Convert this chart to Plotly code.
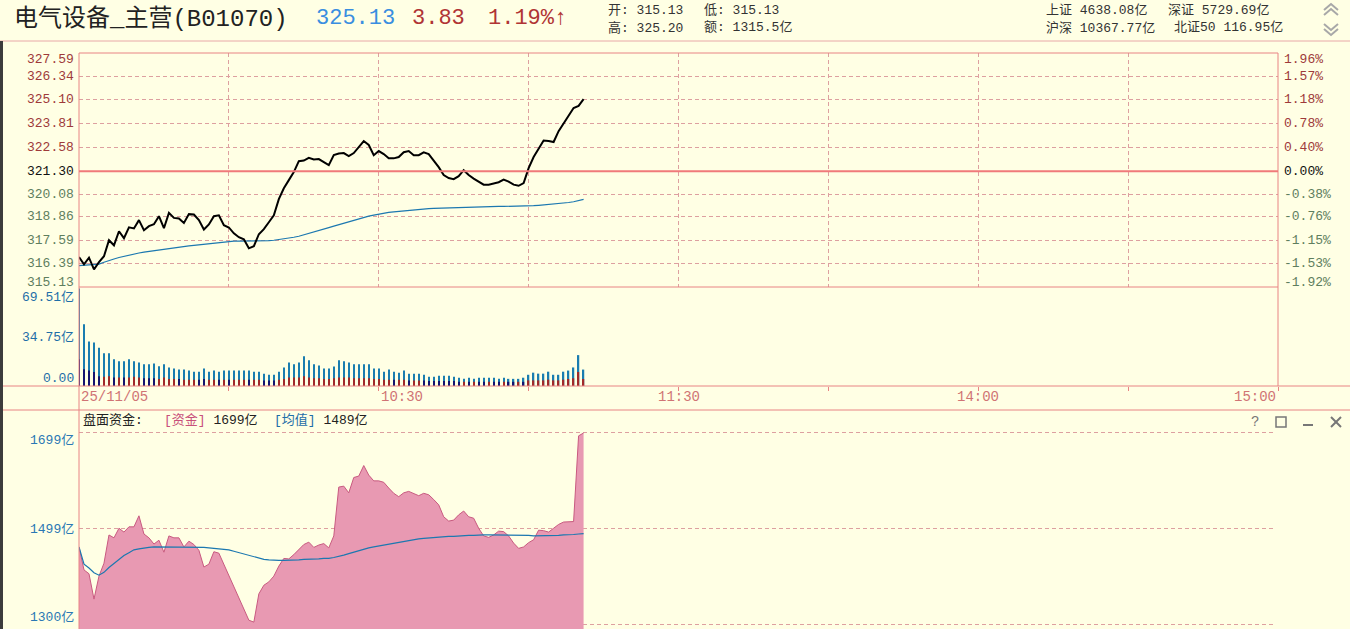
import plotly.graph_objects as go

# ---- data ----
minutes = list(range(102))  # 9:30 .. 11:11, one point per minute

price = [316.73, 316.34, 316.69, 316.07, 316.45, 316.77, 317.62, 317.35, 318.10, 317.73,
         318.31, 318.25, 318.69, 318.15, 318.37, 318.47, 318.90, 318.26, 319.08, 318.81,
         318.78, 318.54, 319.01, 318.99, 318.69, 318.19, 318.46, 318.90, 318.95, 318.42,
         318.30, 317.99, 317.78, 317.67, 317.19, 317.30, 317.94, 318.21, 318.58, 318.95,
         319.81, 320.39, 320.82, 321.25, 321.83, 321.86, 322.01, 321.92, 321.94, 321.78,
         321.62, 322.15, 322.24, 322.26, 322.10, 322.26, 322.60, 322.90, 322.69, 322.15,
         322.37, 322.21, 321.99, 321.98, 322.05, 322.31, 322.37, 322.15, 322.15, 322.30,
         322.21, 321.89, 321.51, 321.09, 320.93, 320.87, 321.03, 321.35, 321.09, 320.90,
         320.74, 320.58, 320.58, 320.66, 320.71, 320.85, 320.74, 320.58, 320.52, 320.66,
         321.46, 322.05, 322.47, 322.93, 322.90, 322.85, 323.43, 323.86, 324.29, 324.66,
         324.77, 325.13]

avg_price = [316.27, 316.30, 316.32, 316.33, 316.35, 316.45, 316.55, 316.62, 316.70, 316.77,
             316.82, 316.88, 316.94, 316.99, 317.03, 317.07, 317.11, 317.16, 317.20, 317.23,
             317.26, 317.29, 317.32, 317.35, 317.38, 317.41, 317.44, 317.47, 317.50, 317.53,
             317.56, 317.57, 317.57, 317.57, 317.57, 317.57, 317.58, 317.59, 317.60, 317.62,
             317.65, 317.69, 317.74, 317.78, 317.83, 317.90, 317.97, 318.04, 318.12, 318.20,
             318.29, 318.37, 318.45, 318.53, 318.61, 318.68, 318.75, 318.82, 318.90, 318.96,
             319.02, 319.06, 319.10, 319.13, 319.16, 319.19, 319.21, 319.24, 319.26, 319.28,
             319.30, 319.32, 319.33, 319.34, 319.35, 319.36, 319.37, 319.38, 319.39, 319.40,
             319.40, 319.41, 319.41, 319.41, 319.42, 319.42, 319.42, 319.42, 319.43, 319.43,
             319.44, 319.46, 319.48, 319.50, 319.52, 319.54, 319.57, 319.60, 319.63, 319.67,
             319.72, 319.80]

# volume per minute, 亿
volume = [69.5, 43.9, 31.7, 31.0, 27.3, 23.4, 23.4, 19.0, 17.6, 17.6,
          19.0, 17.6, 16.8, 15.4, 15.4, 16.1, 14.1, 15.4, 13.2, 12.4,
          11.7, 11.7, 11.0, 10.2, 10.2, 12.4, 10.2, 11.0, 10.2, 11.0,
          11.0, 11.0, 11.0, 11.0, 11.0, 10.2, 10.2, 8.8, 8.0, 8.0,
          10.2, 13.2, 16.8, 15.4, 16.8, 21.2, 18.3, 15.4, 14.6, 12.4,
          12.4, 13.9, 18.3, 17.6, 16.8, 15.4, 15.4, 15.4, 15.4, 12.4,
          12.4, 10.2, 11.7, 10.2, 9.5, 11.0, 8.8, 8.8, 8.8, 8.0,
          6.6, 6.6, 7.3, 7.3, 7.3, 6.6, 5.9, 5.1, 5.9, 5.1,
          5.9, 5.9, 5.9, 5.9, 5.1, 5.9, 5.1, 5.1, 5.1, 5.9,
          8.0, 9.5, 8.8, 8.8, 10.2, 8.0, 8.0, 10.2, 11.0, 13.2,
          22.0, 11.7]

# lower (active) part of each volume bar, and its direction (1 = up tick, 0 = down tick)
vol_low = [19, 12, 11, 10, 7, 6.5, 7, 6, 6, 6,
           6, 6.5, 6, 5.5, 5.5, 5.5, 5, 6, 5, 5,
           5, 4.5, 4.5, 4.5, 4.5, 5, 4.5, 4.5, 4.5, 4.5,
           4.5, 4.5, 4.5, 4.5, 4.5, 4.5, 4.5, 4, 4, 4,
           4.5, 5, 6, 6, 6, 7, 6, 5.5, 5.5, 5,
           5, 5.5, 6, 6, 6, 5.5, 5.5, 5.5, 5.5, 5,
           5, 4.5, 4.5, 4.5, 4.5, 4.5, 4, 4, 4, 4,
           3.5, 3.5, 3.5, 3.5, 3.5, 3.5, 3, 3, 3, 3,
           3, 3, 3, 3, 3, 3, 3, 3, 3, 3,
           4, 4, 4, 4, 4.5, 4, 4, 4.5, 5, 5.5,
           10, 5]
vol_dir = [0, 0, 0, 0, 0, 1, 1, 0, 1, 0,
           1, 1, 1, 0, 0, 0, 1, 1, 1, 1,
           0, 1, 1, 1, 0, 0, 1, 1, 0, 1,
           0, 1, 1, 1, 0, 1, 1, 0, 0, 0,
           1, 1, 1, 1, 1, 1, 1, 1, 1, 1,
           1, 1, 1, 1, 1, 1, 1, 1, 1, 1,
           1, 1, 1, 0, 1, 1, 0, 1, 1, 0,
           0, 0, 0, 0, 0, 0, 0, 1, 0, 1,
           0, 0, 1, 0, 0, 1, 0, 0, 1, 0,
           1, 1, 1, 1, 1, 1, 1, 1, 1, 1,
           1, 1]

# 盘面资金 (亿) and its average
funds = [1461, 1413, 1405, 1352, 1400, 1427, 1486, 1480, 1500, 1492,
         1503, 1503, 1526, 1488, 1480, 1467, 1475, 1450, 1484, 1480,
         1480, 1461, 1473, 1466, 1454, 1419, 1425, 1451, 1448, 1425,
         1402, 1377, 1354, 1333, 1308, 1304, 1363, 1381, 1388, 1400,
         1421, 1437, 1436, 1445, 1455, 1466, 1471, 1460, 1465, 1468,
         1459, 1484, 1586, 1588, 1574, 1606, 1609, 1631, 1611, 1599,
         1599, 1596, 1584, 1573, 1566, 1574, 1577, 1572, 1568, 1573,
         1570, 1560, 1549, 1524, 1515, 1517, 1528, 1536, 1524, 1521,
         1500, 1484, 1481, 1486, 1494, 1493, 1484, 1469, 1458, 1461,
         1470, 1476, 1496, 1495, 1492, 1500, 1508, 1513, 1513, 1514,
         1693, 1699]
funds_avg = [1461, 1425, 1417, 1407, 1402, 1408, 1418, 1427, 1436, 1443,
             1449, 1455, 1457, 1459, 1460, 1461, 1461, 1461, 1461, 1461,
             1461, 1461, 1461, 1461, 1461, 1460, 1459, 1458, 1457, 1456,
             1455, 1452, 1449, 1446, 1443, 1440, 1437, 1435, 1434, 1433,
             1433, 1433, 1433, 1434, 1434, 1435, 1435, 1436, 1436, 1437,
             1437, 1439, 1441, 1444, 1447, 1450, 1454, 1457, 1459, 1461,
             1463, 1465, 1467, 1469, 1471, 1472, 1474, 1476, 1478, 1479,
             1480, 1481, 1482, 1482, 1483, 1483, 1484, 1484, 1485, 1485,
             1486, 1486, 1486, 1486, 1486, 1486, 1486, 1486, 1486, 1485,
             1485, 1484, 1484, 1484, 1484, 1485, 1485, 1486, 1486, 1487,
             1488, 1489]

pre_close = 321.30
price_ticks = [327.59, 326.34, 325.10, 323.81, 322.58, 321.30, 320.08, 318.86, 317.59, 316.39, 315.13]
pct_ticks = ["1.96%", "1.57%", "1.18%", "0.78%", "0.40%", "0.00%", "-0.38%", "-0.76%", "-1.15%", "-1.53%", "-1.92%"]
vol_ticks = [69.51, 34.75, 0.0]
vol_tick_text = ["69.51亿", "34.75亿", "0.00"]
fund_ticks = [1699, 1499, 1300]
fund_tick_text = ["1699亿", "1499亿", "1300亿"]
time_ticks = [0, 60, 120, 180, 240]
time_text = ["25/11/05", "10:30", "11:30", "14:00", "15:00"]
grid_minutes = [30, 60, 90, 120, 150, 180, 210]

assert len(price) == len(avg_price) == len(volume) == len(vol_low) == len(vol_dir) == len(funds) == len(funds_avg) == len(minutes)

# ---- layout helpers (pixel -> paper) ----
W, H = 1350, 629
def px(x):
    return x / W
def py(y):
    return 1 - y / H

FONT = "Liberation Mono, Noto Sans CJK SC"
BG = "#FFFFE4"
BORDER = "#E88484"
GRID = "#DDA0A0"
X0, X1 = px(79), px(1278)

fig = go.Figure()

# price panel
fig.add_trace(go.Scatter(x=minutes, y=avg_price, mode="lines", line=dict(color="#1C78B0", width=1.2),
                         xaxis="x", yaxis="y", hoverinfo="skip"))
fig.add_trace(go.Scatter(x=minutes, y=price, mode="lines", line=dict(color="#000000", width=2),
                         xaxis="x", yaxis="y"))

# volume panel
fig.add_trace(go.Bar(x=minutes, y=volume, width=0.26, marker=dict(color="#1A7DB0", line=dict(width=0)),
                     xaxis="x2", yaxis="y2"))
fig.add_trace(go.Bar(x=minutes, y=vol_low, width=0.26,
                     marker=dict(color=["#A02A2A" if d else "#141470" for d in vol_dir], line=dict(width=0)),
                     xaxis="x2", yaxis="y2"))

# funds panel
fig.add_trace(go.Scatter(x=minutes, y=funds, mode="lines", fill="tozeroy", fillcolor="#E899B2",
                         line=dict(color="#C85A80", width=1), xaxis="x3", yaxis="y3"))
fig.add_trace(go.Scatter(x=minutes, y=funds_avg, mode="lines", line=dict(color="#1C78B0", width=1.2),
                         xaxis="x3", yaxis="y3"))

dash = "4px,3px"
fig.update_layout(
    width=W, height=H, margin=dict(l=0, r=0, t=0, b=0),
    paper_bgcolor=BG, plot_bgcolor=BG, showlegend=False, barmode="overlay",
    font=dict(family=FONT, size=13, color="#333333"),
    xaxis=dict(domain=[X0, X1], range=[0, 240], anchor="y", tickvals=grid_minutes, showgrid=True,
               gridcolor=GRID, griddash=dash, gridwidth=1, showticklabels=False, zeroline=False, ticks=""),
    yaxis=dict(domain=[py(287), py(53)], range=[price_ticks[-1], price_ticks[0]], anchor="x",
               tickvals=[v for v in price_ticks[1:-1] if v != pre_close], showgrid=True,
               gridcolor=GRID, griddash=dash, showticklabels=False, zeroline=False, ticks=""),
    xaxis2=dict(domain=[X0, X1], range=[0, 240], anchor="y2", tickvals=grid_minutes + [240], showgrid=False,
                ticks="outside", ticklen=4, tickcolor=BORDER, showticklabels=False, zeroline=False),
    yaxis2=dict(domain=[py(386), py(287)], range=[0, 70.5], anchor="x2", showgrid=False,
                showticklabels=False, zeroline=False, ticks=""),
    xaxis3=dict(domain=[X0, px(1275)], range=[0, 239.4], anchor="y3", showgrid=False,
                showticklabels=False, zeroline=False, ticks=""),
    yaxis3=dict(domain=[0, py(410)], range=[1289.6, 1747], anchor="x3", tickvals=fund_ticks, showgrid=True,
                gridcolor=GRID, griddash=dash, showticklabels=False, zeroline=False, ticks=""),
)

shapes = []
def hline(y, x0, x1, color=BORDER, width=1):
    shapes.append(dict(type="line", xref="paper", yref="paper", x0=px(x0), x1=px(x1), y0=py(y), y1=py(y),
                       line=dict(color=color, width=width)))
def vline(x, y0, y1, color=BORDER, width=1):
    shapes.append(dict(type="line", xref="paper", yref="paper", x0=px(x), x1=px(x), y0=py(y0), y1=py(y1),
                       line=dict(color=color, width=width)))

# frame
hline(41, 0, W, "#E8A8A8")
hline(53, 79, 1278)
hline(287, 79, 1278)
hline(386, 0, W)
hline(410, 0, W)
vline(79, 53, H)
vline(1278, 53, 386)
shapes.append(dict(type="rect", xref="paper", yref="paper", x0=0, x1=px(3), y0=0, y1=py(41),
                   fillcolor="#3C3C3C", line=dict(width=0)))
# pre-close base line
shapes.append(dict(type="line", xref="paper", yref="y", x0=X0, x1=X1, y0=pre_close, y1=pre_close,
                   line=dict(color="#F07A7A", width=2)))

# scroll chevrons (top right)
def path(pts):
    return "M " + " L ".join(f"{px(a)},{py(b)}" for a, b in pts)
for pts in ([(1324, 10), (1331, 4), (1338, 10)], [(1324, 15), (1331, 9), (1338, 15)],
            [(1324, 24), (1331, 30), (1338, 24)], [(1324, 29), (1331, 35), (1338, 29)]):
    shapes.append(dict(type="path", xref="paper", yref="paper", path=path(pts),
                       line=dict(color="#A8A8A8", width=2)))
# window icons (funds panel)
shapes.append(dict(type="rect", xref="paper", yref="paper", x0=px(1276), x1=px(1286), y0=py(427), y1=py(417),
                   line=dict(color="#777777", width=1.5)))
hline(425, 1303, 1313, "#777777", 2)
shapes.append(dict(type="path", xref="paper", yref="paper", path=path([(1331, 417), (1341, 427)]),
                   line=dict(color="#777777", width=2)))
shapes.append(dict(type="path", xref="paper", yref="paper", path=path([(1341, 417), (1331, 427)]),
                   line=dict(color="#777777", width=2)))
fig.update_layout(shapes=shapes)

ann = []
def text(x, y, s, size=13, color="#333333", anchor="left", xref="paper", yref="paper"):
    ann.append(dict(x=x, y=y, xref=xref, yref=yref, text=s, showarrow=False, xanchor=anchor, yanchor="middle",
                    font=dict(family=FONT, size=size, color=color)))

# header
text(px(12), py(19), "电气设备_主营(B01070)", 24, "#222222")
text(px(314), py(19), "325.13", 22, "#3A8EE0")
text(px(410), py(19), "3.83", 22, "#B03434")
text(px(486), py(19), "1.19%<b>↑</b>", 22, "#B03434")
text(px(606), py(10), "开: 315.13", 13, "#333333")
text(px(702), py(10), "低: 315.13", 13, "#333333")
text(px(606), py(28), "高: 325.20", 13, "#333333")
text(px(702), py(28), "额: 1315.5亿", 13, "#333333")
text(px(1044), py(10), "上证 4638.08亿", 13, "#333333")
text(px(1166), py(10), "深证 5729.69亿", 13, "#333333")
text(px(1044), py(28), "沪深 10367.77亿", 13, "#333333")
text(px(1172), py(28), "北证50 116.95亿", 13, "#333333")

# price / percent axis labels
for k, (v, p) in enumerate(zip(price_ticks, pct_ticks)):
    color = "#9E3A3A" if v > pre_close else ("#111111" if v == pre_close else "#5E7E5E")
    shift = 7 if k == 0 else (-5 if k == len(price_ticks) - 1 else 0)
    yy = py(53 + (price_ticks[0] - v) / (price_ticks[0] - price_ticks[-1]) * 234 + shift)
    text(px(76), yy, f"{v:.2f}", 13, color, "right")
    text(px(1282), yy, p, 13, color, "left")

# volume labels
for v, t, yy in zip(vol_ticks, vol_tick_text, [297, 337, 378]):
    text(px(76), py(yy), t, 13, "#1E6EA8", "right")

# time labels
for m, t in zip(time_ticks, time_text):
    anchor = "left" if m in (0, 60) else ("right" if m == 240 else "center")
    text(m, py(397), t, 14, "#D07474", anchor, xref="x2")

# funds panel header and labels
text(px(81), py(420), "盘面资金:", 13, "#222222")
text(px(162), py(420), "<span style='color:#C8507A'>[资金]</span> 1699亿", 13, "#222222")
text(px(272), py(420), "<span style='color:#1E6EA8'>[均值]</span> 1489亿", 13, "#222222")
for v, t, yy in zip(fund_ticks, fund_tick_text, [440, 529, 617]):
    text(px(76), py(yy), t, 13, "#2A78B4", "right")
text(px(1255), py(422), "?", 14, "#777777", "center")

fig.update_layout(annotations=ann)
fig.write_html("out.html", config={"displayModeBar": False},
               post_script="document.body.style.margin='0';document.body.style.overflow='hidden';")
